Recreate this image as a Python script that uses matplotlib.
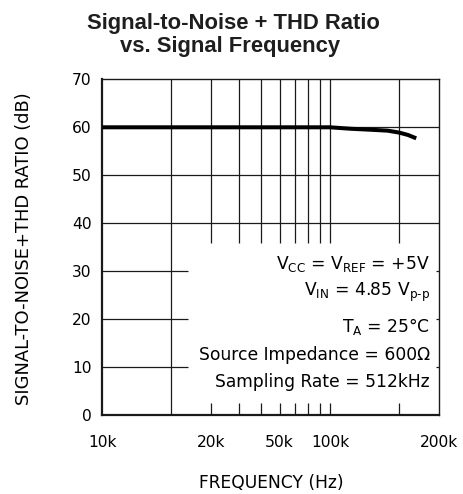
import matplotlib
matplotlib.use('Agg')
import matplotlib.pyplot as plt

# ---- data ----
freq_hz = [10e3, 50e3, 100e3, 123e3, 150e3, 179e3, 201e3, 220e3, 239e3]
snr_thd_db = [60.0, 60.0, 60.0, 59.7, 59.5, 59.3, 58.9, 58.4, 57.7]

xtick_pos = [10e3, 30e3, 60e3, 100e3, 300e3]
xtick_labels = ['10k', '20k', '50k', '100k', '200k']
ytick_vals = [0, 10, 20, 30, 40, 50, 60, 70]

full_vgrid = [20e3]
split_vgrid = [30e3, 40e3, 50e3, 60e3, 70e3, 80e3, 90e3, 100e3, 200e3]
full_hgrid = [40, 50, 60]
short_hgrid = [10, 20, 30]

conditions = [
    r'V$_{\mathregular{CC}}$ = V$_{\mathregular{REF}}$ = +5V',
    r'V$_{\mathregular{IN}}$ = 4.85 V$_{\text{p-p}}$',
    r'T$_{\mathregular{A}}$ = 25°C',
    'Source Impedance = 600Ω',
    'Sampling Rate = 512kHz',
]
cond_y = [0.4345, 0.355, 0.249, 0.1646, 0.0851]

plt.rcParams['font.family'] = ['DejaVu Sans']
plt.rcParams['mathtext.default'] = 'regular'

W, H = 463, 494
fig = plt.figure(figsize=(W / 100, H / 100), dpi=100)
ax = fig.add_axes([102.3 / W, 1 - 415.3 / H, 336.4 / W, 336 / H])
ax.set_xscale('log')
ax.set_xlim(10e3, 300e3)
ax.set_ylim(0, 70)

gc = '#1a1a1a'
glw = 0.9
for f in full_vgrid:
    ax.axvline(f, color=gc, lw=glw, zorder=1)
for f in split_vgrid:
    ax.vlines(f, 36, 70, color=gc, lw=glw, zorder=1)
    ax.vlines(f, 0, 2.6, color=gc, lw=glw, zorder=1)
for y in full_hgrid:
    ax.axhline(y, color=gc, lw=glw, zorder=1)
for y in short_hgrid:
    ax.hlines(y, 10e3, 23.9e3, color=gc, lw=glw, zorder=1)
    ax.hlines(y, 292e3, 300e3, color=gc, lw=glw, zorder=1)

ax.plot(freq_hz, snr_thd_db, color='black', lw=2.9, solid_capstyle='butt', zorder=3)

ax.set_xticks(xtick_pos)
ax.set_xticklabels(xtick_labels)
ax.xaxis.set_minor_locator(matplotlib.ticker.NullLocator())
ax.set_yticks(ytick_vals)
ax.tick_params(axis='both', length=0, labelsize=11.2, colors='black')
ax.tick_params(axis='y', pad=7.6)
ax.tick_params(axis='x', pad=14)

for s in ['left', 'bottom']:
    ax.spines[s].set_linewidth(1.6)
for s in ['top', 'right']:
    ax.spines[s].set_linewidth(1.0)
for s in ax.spines.values():
    s.set_color(gc)

for txt, yy in zip(conditions, cond_y):
    ax.text(0.974, yy, txt, transform=ax.transAxes, ha='right', va='baseline',
            fontsize=12.3, color='black', zorder=4)

fig.text(233 / W, 1 - 29 / H, 'Signal-to-Noise + THD Ratio', ha='center', va='baseline',
         fontsize=15.8, fontweight='bold', family=['Liberation Sans', 'DejaVu Sans'], color='#1e1e1e')
fig.text(230.5 / W, 1 - 51.7 / H, 'vs. Signal Frequency', ha='center', va='baseline',
         fontsize=15.8, fontweight='bold', family=['Liberation Sans', 'DejaVu Sans'], color='#1e1e1e')

fig.text(271.5 / W, 1 - 488.3 / H, 'FREQUENCY (Hz)', ha='center', va='baseline', fontsize=12.3)
fig.text(24 / W, 1 - 249 / H, 'SIGNAL-TO-NOISE+THD RATIO (dB)', rotation=90,
         ha='center', va='center', fontsize=12.9)

fig.savefig('out.png', dpi=100)
